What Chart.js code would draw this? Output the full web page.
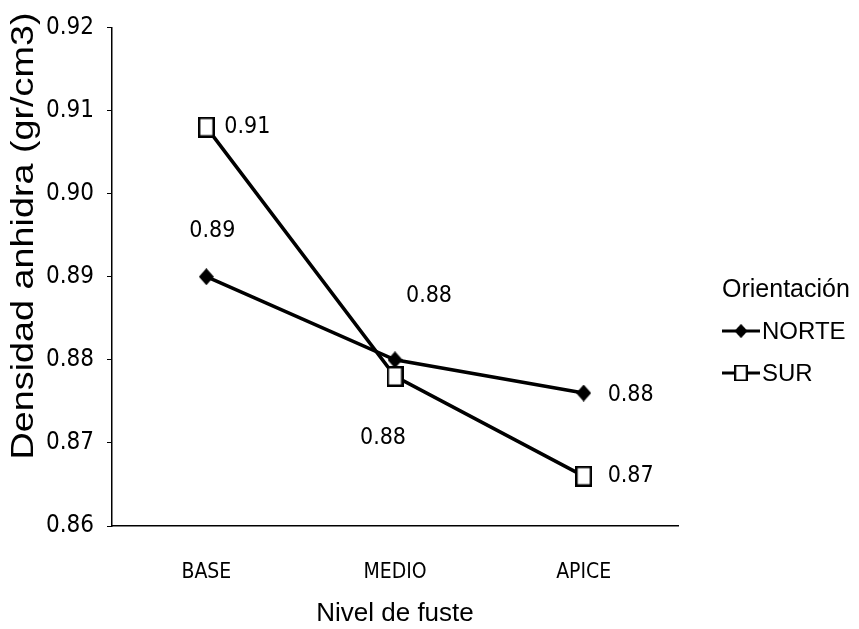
<!DOCTYPE html>
<html>
<head>
<meta charset="utf-8">
<script src="https://cdn.jsdelivr.net/npm/chart.js@4.4.1/dist/chart.umd.min.js"></script>
<style>
  html, body { margin: 0; padding: 0; background: #fff; }
  #wrap { width: 859px; height: 629px; }
</style>
</head>
<body>
<div id="wrap"><canvas id="c"></canvas></div>
<script>
// data
const categories = ["BASE", "MEDIO", "APICE"];
const norteValues = [0.890, 0.880, 0.876];
const surValues = [0.908, 0.878, 0.866];
const yTicks = [0.86, 0.87, 0.88, 0.89, 0.90, 0.91, 0.92];

const NARROW = "'Liberation Sans Narrow', 'DejaVu Sans Condensed', 'Liberation Sans', sans-serif";
const SANS = "'Liberation Sans', Arial, sans-serif";

// the scanned original is a bit stretched vertically, so the markers are
// slightly taller than wide
function boxMarker(w, h) {
  const c = document.createElement("canvas");
  c.width = w; c.height = h;
  const g = c.getContext("2d");
  g.fillStyle = "#fff";
  g.fillRect(0, 0, w, h);
  g.strokeStyle = "#000";
  g.lineWidth = 2.5;
  g.strokeRect(1.25, 1.25, w - 2.5, h - 2.5);
  return c;
}
function diamondMarker(w, h) {
  const c = document.createElement("canvas");
  c.width = w; c.height = h;
  const g = c.getContext("2d");
  g.fillStyle = "#000";
  g.beginPath();
  g.moveTo(w / 2, 0); g.lineTo(w, h / 2); g.lineTo(w / 2, h); g.lineTo(0, h / 2);
  g.closePath();
  g.fill();
  return c;
}
const NORTE_MARK = diamondMarker(15, 17);
const SUR_MARK = boxMarker(17, 21);

// where each value label sits relative to its point (dx, dy)
const LABEL_OFFSETS = [
  [[6, -46], [34, -64], [47, 2]],   // NORTE
  [[41, 0], [-12, 62], [47, 0]],    // SUR
];

const valueLabels = {
  id: "valueLabels",
  afterDatasetsDraw(chart) {
    const ctx = chart.ctx;
    ctx.save();
    ctx.fillStyle = "#000";
    ctx.font = "23px " + NARROW;
    ctx.textAlign = "center";
    ctx.textBaseline = "middle";
    chart.data.datasets.forEach((ds, di) => {
      chart.getDatasetMeta(di).data.forEach((pt, i) => {
        const [dx, dy] = LABEL_OFFSETS[di][i];
        ctx.fillText(ds.data[i].toFixed(2), pt.x + dx, pt.y + dy);
      });
    });
    ctx.restore();
  },
};

// y title drawn by hand: the original's is long and sits above centre
const yTitle = {
  id: "yTitle",
  afterDraw(chart) {
    const ctx = chart.ctx;
    ctx.save();
    ctx.translate(24, 236);
    ctx.rotate(-Math.PI / 2);
    ctx.scale(1.18, 1);
    ctx.fillStyle = "#000";
    ctx.font = "32px " + SANS;
    ctx.textAlign = "center";
    ctx.textBaseline = "middle";
    ctx.fillText("Densidad anhidra (gr/cm3)", 0, 0);
    ctx.restore();
  },
};

// legend: line-marker-line swatch like the spreadsheet original
const sideLegend = {
  id: "sideLegend",
  afterDraw(chart) {
    const ctx = chart.ctx;
    const x0 = 722;
    ctx.save();
    ctx.textBaseline = "middle";
    ctx.fillStyle = "#000";
    ctx.font = "25px " + SANS;
    ctx.fillText("Orientación", x0, 290);
    chart.data.datasets.forEach((ds, di) => {
      const y = 331 + di * 42;
      ctx.strokeStyle = "#000";
      ctx.lineWidth = 3;
      ctx.beginPath();
      ctx.moveTo(x0, y);
      ctx.lineTo(x0 + 38, y);
      ctx.stroke();
      const m = ds.pointStyle;
      const s = di === 0 ? 0.85 : 0.8;
      ctx.drawImage(m, x0 + 19 - (m.width * s) / 2, y - (m.height * s) / 2, m.width * s, m.height * s);
      ctx.fillStyle = "#000";
      ctx.font = "24px " + SANS;
      ctx.fillText(ds.label, x0 + 40, y + 1);
    });
    ctx.restore();
  },
};

new Chart(document.getElementById("c"), {
  type: "line",
  data: {
    labels: categories,
    datasets: [
      {
        label: "NORTE",
        data: norteValues,
        borderColor: "#000",
        borderWidth: 3.5,
        pointStyle: NORTE_MARK,
        tension: 0,
      },
      {
        label: "SUR",
        data: surValues,
        borderColor: "#000",
        borderWidth: 3.5,
        pointStyle: SUR_MARK,
        tension: 0,
      },
    ],
  },
  options: {
    responsive: true,
    maintainAspectRatio: false,
    animation: false,
    layout: { padding: { left: 0, top: 27, right: 181, bottom: 0 } },
    plugins: {
      legend: { display: false },
      tooltip: { enabled: false },
    },
    scales: {
      x: {
        offset: true,
        grid: { display: false },
        border: { display: true, color: "#000", width: 1.5 },
        ticks: { color: "#000", padding: 26, font: { family: NARROW, size: 21 } },
        title: {
          display: true,
          text: "Nivel de fuste",
          color: "#000",
          font: { family: SANS, size: 26 },
          padding: { top: 14, bottom: 0 },
        },
        afterFit(scale) { scale.height = 103; },
      },
      y: {
        min: 0.86,
        max: 0.92,
        afterBuildTicks(scale) { scale.ticks = yTicks.map((v) => ({ value: v })); },
        grid: { display: true, drawOnChartArea: false, drawTicks: true, tickLength: 5, color: "#000" },
        border: { display: true, color: "#000", width: 1.5 },
        ticks: {
          color: "#000",
          padding: 13,
          font: { family: NARROW, size: 24 },
          callback: (v) => Number(v).toFixed(2),
        },
        afterFit(scale) { scale.width = 112; },
      },
    },
  },
  plugins: [valueLabels, yTitle, sideLegend],
});
</script>
</body>
</html>
